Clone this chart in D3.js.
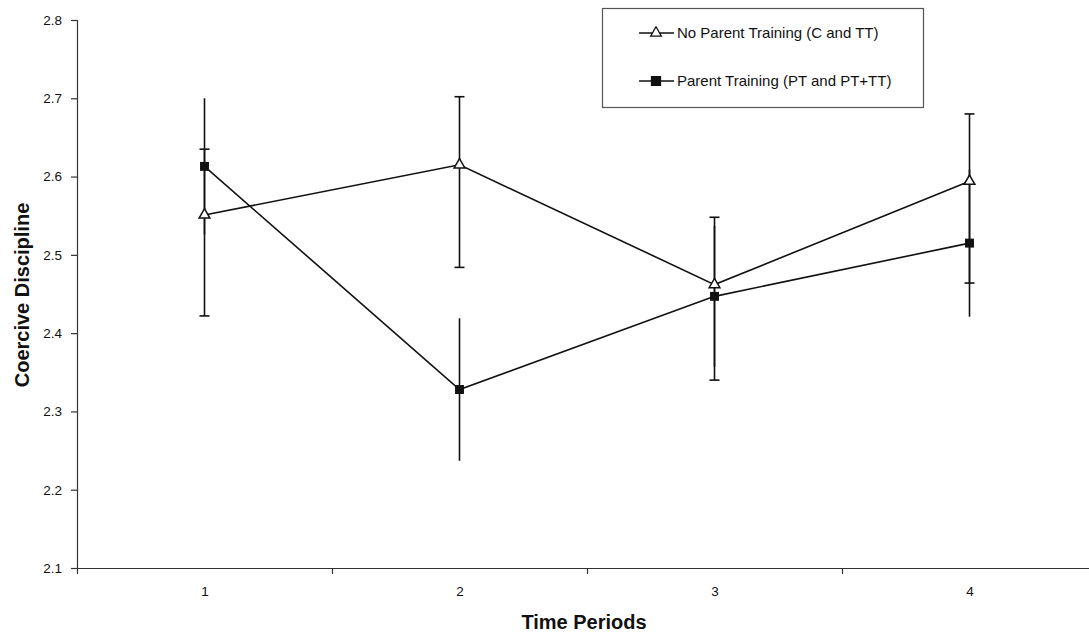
<!DOCTYPE html>
<html>
<head>
<meta charset="utf-8">
<script src="https://cdn.jsdelivr.net/npm/d3@7/dist/d3.min.js"></script>
<style>
  body { margin: 0; background: #fff; }
  svg { display: block; }
  text { font-family: Arial, "Liberation Sans", sans-serif; fill: #111; }
</style>
</head>
<body>
<svg id="chart" width="1089" height="634"></svg>
<script>
// ---- data ----
const periods = [1, 2, 3, 4];
const yTicks = [2.1, 2.2, 2.3, 2.4, 2.5, 2.6, 2.7, 2.8];

const noPTName = "No Parent Training (C and TT)";
const noPTMean = [2.551, 2.615, 2.462, 2.594];
const noPTErrUp = [0.084, 0.087, 0.086, 0.086];
const noPTErrDown = [0.129, 0.131, 0.122, 0.130];

const ptName = "Parent Training (PT and PT+TT)";
const ptMean = [2.613, 2.328, 2.447, 2.515];
const ptErrUp = [0.087, 0.091, 0.090, 0.094];
const ptErrDown = [0.087, 0.091, 0.090, 0.094];

const xTitle = "Time Periods";
const yTitle = "Coercive Discipline";

// ---- layout ----
const svg = d3.select("#chart");
const x = d3.scaleLinear().domain([0.5, 4.5]).range([77, 1097]);
const y = d3.scaleLinear().domain([2.1, 2.8]).range([568, 20]);

const axisColor = "#333";

// y axis
const yAxis = svg.append("g").attr("transform", "translate(77,0)")
  .call(d3.axisLeft(y).tickValues(yTicks).tickFormat(d3.format(".1f")).tickSize(6).tickPadding(9));
yAxis.selectAll("text").style("font-size", "13.5px").attr("fill", "#111");
yAxis.selectAll("line, path").attr("stroke", axisColor).attr("stroke-width", 1.2);

// x axis ticks (band boundaries)
const xAxis = svg.append("g").attr("transform", "translate(0,568)")
  .call(d3.axisBottom(x).tickValues([0.5, 1.5, 2.5, 3.5, 4.5]).tickFormat("").tickSize(6).tickSizeOuter(0));
xAxis.selectAll("line, path").attr("stroke", axisColor).attr("stroke-width", 1.2);
// x labels
const xLab = svg.append("g").attr("transform", "translate(0,568)")
  .call(d3.axisBottom(x).tickValues(periods).tickFormat(d3.format("d")).tickSize(0).tickPadding(18));
xLab.select("path").remove();
xLab.selectAll("text").style("font-size", "13.5px").attr("fill", "#111");

// titles
svg.append("text").attr("x", 584).attr("y", 629).attr("text-anchor", "middle")
  .style("font-size", "20px").style("font-weight", "bold").text(xTitle);
svg.append("text").attr("transform", "translate(29,295) rotate(-90)").attr("text-anchor", "middle")
  .style("font-size", "20px").style("font-weight", "bold").text(yTitle);

// error bars
function errorBars(mean, up, down, caps) {
  const g = svg.append("g").attr("stroke", "#111").attr("stroke-width", 1.6);
  periods.forEach((p, i) => {
    const cx = x(p);
    g.append("line").attr("x1", cx).attr("x2", cx)
      .attr("y1", y(mean[i] + up[i])).attr("y2", y(mean[i] - down[i]));
    if (caps) {
      [mean[i] + up[i], mean[i] - down[i]].forEach(v => {
        g.append("line").attr("x1", cx - 5).attr("x2", cx + 5)
          .attr("y1", y(v)).attr("y2", y(v));
      });
    }
  });
}
errorBars(ptMean, ptErrUp, ptErrDown, false);
errorBars(noPTMean, noPTErrUp, noPTErrDown, true);

const line = d3.line().x((d, i) => x(periods[i])).y(d => y(d));
svg.append("path").datum(noPTMean).attr("d", line)
  .attr("fill", "none").attr("stroke", "#111").attr("stroke-width", 1.6);
svg.append("path").datum(ptMean).attr("d", line)
  .attr("fill", "none").attr("stroke", "#111").attr("stroke-width", 1.6);

const tri = d3.symbol().type(d3.symbolTriangle).size(50);
const sq = d3.symbol().type(d3.symbolSquare).size(80);

svg.append("g").selectAll("path").data(noPTMean).join("path")
  .attr("d", tri)
  .attr("transform", (d, i) => `translate(${x(periods[i])},${y(d)})`)
  .attr("fill", "#fff").attr("stroke", "#111").attr("stroke-width", 1.5);
svg.append("g").selectAll("path").data(ptMean).join("path")
  .attr("d", sq)
  .attr("transform", (d, i) => `translate(${x(periods[i])},${y(d)})`)
  .attr("fill", "#111");

// legend
const lg = svg.append("g");
lg.append("rect").attr("x", 602.5).attr("y", 8.5).attr("width", 321).attr("height", 99)
  .attr("fill", "#fff").attr("stroke", "#555").attr("stroke-width", 1.2);
const legendItems = [
  { name: noPTName, sym: tri, fill: "#fff", yy: 33 },
  { name: ptName, sym: sq, fill: "#111", yy: 81 }
];
legendItems.forEach(it => {
  lg.append("line").attr("x1", 639).attr("x2", 674).attr("y1", it.yy).attr("y2", it.yy)
    .attr("stroke", "#111").attr("stroke-width", 1.5);
  lg.append("path").attr("d", it.sym).attr("transform", `translate(656,${it.yy})`)
    .attr("fill", it.fill).attr("stroke", "#111").attr("stroke-width", 1.3);
  lg.append("text").attr("x", 677).attr("y", it.yy + 5).style("font-size", "15px").text(it.name);
});
</script>
</body>
</html>
